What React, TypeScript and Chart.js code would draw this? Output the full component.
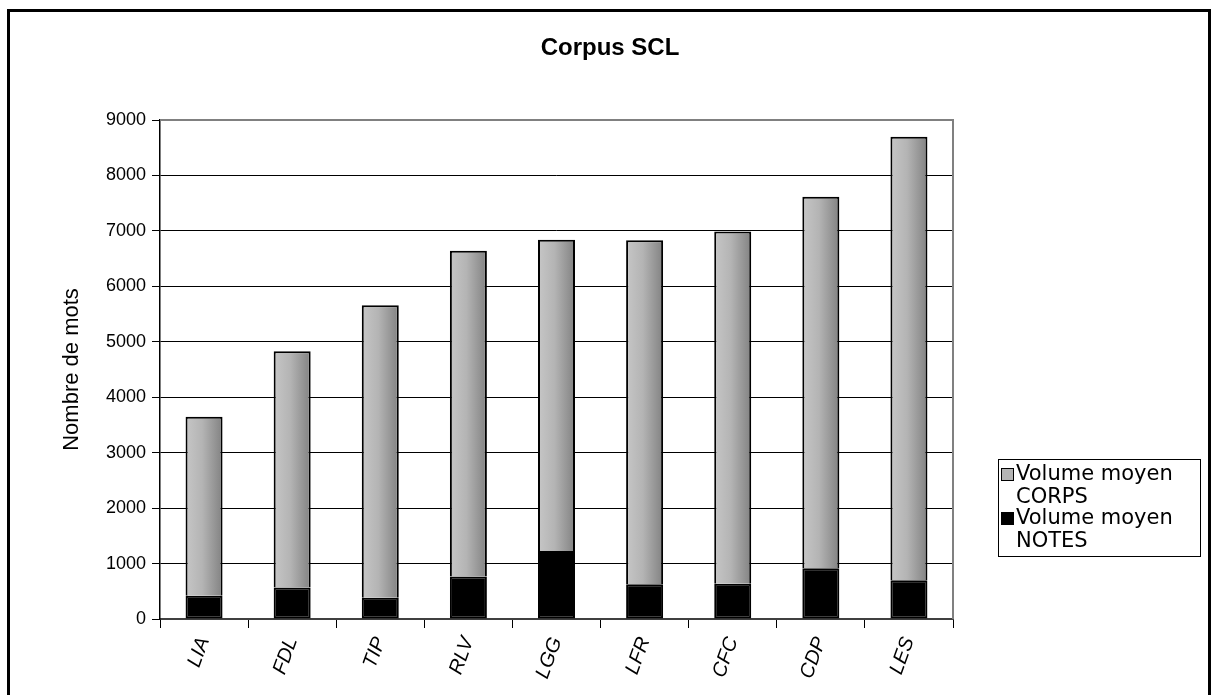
import React, { useEffect, useRef } from "react";
import { Chart, registerables } from "chart.js";

Chart.register(...registerables);

const TITLE = "Corpus SCL";
const Y_TITLE = "Nombre de mots";
const CATEGORIES = ["LIA", "FDL", "TIP", "RLV", "LGG", "LFR", "CFC", "CDP", "LES"];
const NOTES = [420, 570, 385, 765, 1225, 625, 635, 915, 700];
const CORPS = [3230, 4260, 5275, 5875, 5615, 6205, 6355, 6700, 8000];
const Y_MIN = 0;
const Y_MAX = 9000;
const Y_STEP = 1000;
const LEGEND_CORPS = ["Volume moyen", "CORPS"];
const LEGEND_NOTES = ["Volume moyen", "NOTES"];

const BAR_PCT = 0.42;
const W = 1211;
const H = 695;

function grayGradient(c: any) {
  const chart = c.chart;
  const xs = chart.scales && chart.scales.x;
  if (!xs || c.type !== "data" || c.dataIndex === undefined) return "#a8a8a8";
  const cx = xs.getPixelForValue(c.dataIndex);
  const w = (xs.width / CATEGORIES.length) * BAR_PCT;
  if (!isFinite(cx) || !isFinite(w) || w <= 0) return "#a8a8a8";
  const g = chart.ctx.createLinearGradient(cx - w / 2, 0, cx + w / 2, 0);
  g.addColorStop(0, "#c6c6c6");
  g.addColorStop(0.45, "#b4b4b4");
  g.addColorStop(1, "#828282");
  return g;
}

const decorPlugin = {
  id: "decor",
  beforeDraw(chart: any) {
    const ctx = chart.ctx;
    ctx.save();
    ctx.fillStyle = "#ffffff";
    ctx.fillRect(0, 0, W, H);
    ctx.restore();
  },
  afterDatasetsDraw(chart: any) {
    const { ctx, chartArea } = chart;
    ctx.save();
    ctx.strokeStyle = "#808080";
    ctx.lineWidth = 2;
    ctx.beginPath();
    ctx.moveTo(chartArea.left, chartArea.top);
    ctx.lineTo(chartArea.right, chartArea.top);
    ctx.lineTo(chartArea.right, chartArea.bottom);
    ctx.stroke();
    ctx.restore();
  },
  afterDraw(chart: any) {
    const ctx = chart.ctx;
    ctx.save();
    ctx.strokeStyle = "#000000";
    ctx.lineWidth = 3;
    ctx.strokeRect(8.5, 10.5, 1201, 700);
    ctx.fillStyle = "#000000";
    ctx.font = "bold 24px 'Liberation Sans', Arial, sans-serif";
    ctx.textAlign = "center";
    ctx.textBaseline = "middle";
    ctx.fillText(TITLE, 610, 48);
    const lx = 998, ly = 459, lw = 202, lh = 97;
    ctx.lineWidth = 1;
    ctx.strokeRect(lx + 0.5, ly + 0.5, lw, lh);
    ctx.font = "21px 'DejaVu Sans', Verdana, sans-serif";
    ctx.textAlign = "left";
    ctx.textBaseline = "middle";
    const items = [
      { lines: LEGEND_CORPS, color: "#b4b4b4", y: 475 },
      { lines: LEGEND_NOTES, color: "#000000", y: 519 },
    ];
    items.forEach((it) => {
      ctx.fillStyle = it.color;
      ctx.fillRect(1001, it.y - 7, 13, 13);
      ctx.strokeStyle = "#000000";
      ctx.strokeRect(1001.5, it.y - 6.5, 12, 12);
      ctx.fillStyle = "#000000";
      it.lines.forEach((t, i) => ctx.fillText(t, 1016, it.y + i * 23));
    });
    ctx.restore();
  },
};

export default function App() {
  const ref = useRef<HTMLCanvasElement>(null);
  useEffect(() => {
    if (!ref.current) return;
    const chart = new Chart(ref.current, {
      type: "bar",
      data: {
        labels: CATEGORIES,
        datasets: [
          {
            label: "Volume moyen NOTES",
            data: NOTES,
            backgroundColor: "#000000",
            borderColor: "#000000",
            borderWidth: 2,
            borderSkipped: false,
            barPercentage: BAR_PCT,
            categoryPercentage: 1,
          },
          {
            label: "Volume moyen CORPS",
            data: CORPS,
            backgroundColor: grayGradient as any,
            borderColor: "#000000",
            borderWidth: 2,
            borderSkipped: "start",
            barPercentage: BAR_PCT,
            categoryPercentage: 1,
          },
        ],
      },
      options: {
        responsive: false,
        animation: false,
        devicePixelRatio: 1,
        layout: { padding: { left: 50, right: 258, top: 120, bottom: 0 } },
        plugins: {
          legend: { display: false },
          title: { display: false },
          tooltip: { enabled: false },
        },
        scales: {
          x: {
            stacked: true,
            afterFit: (s: any) => {
              s.height = 76;
            },
            grid: {
              offset: true,
              drawOnChartArea: false,
              drawTicks: true,
              tickLength: 9,
              color: "#000000",
              lineWidth: 1,
            },
            border: { display: true, color: "#404040", width: 2 },
            ticks: {
              autoSkip: false,
              maxRotation: 70,
              minRotation: 70,
              padding: 6,
              color: "#000000",
              font: { family: "'Liberation Sans', Arial, sans-serif", size: 20, style: "italic" },
            },
          },
          y: {
            stacked: true,
            min: Y_MIN,
            max: Y_MAX,
            afterFit: (s: any) => {
              s.width = 110;
            },
            grid: {
              color: "#000000",
              lineWidth: 1,
              drawTicks: true,
              tickLength: 8,
            },
            border: { display: true, color: "#000000", width: 1.5 },
            ticks: {
              stepSize: Y_STEP,
              padding: 6,
              color: "#000000",
              callback: (v: any) => String(v),
              font: { family: "'Liberation Sans', Arial, sans-serif", size: 18 },
            },
            title: {
              display: true,
              text: Y_TITLE,
              color: "#000000",
              padding: { top: 9, bottom: 0 },
              font: { family: "'Liberation Sans', Arial, sans-serif", size: 22 },
            },
          },
        },
      },
      plugins: [decorPlugin],
    });
    chart.update();
    return () => chart.destroy();
  }, []);
  return (
    <div style={{ position: "absolute", left: 0, top: 0, width: W, height: H }}>
      <canvas ref={ref} width={W} height={H} style={{ display: "block" }} />
    </div>
  );
}
